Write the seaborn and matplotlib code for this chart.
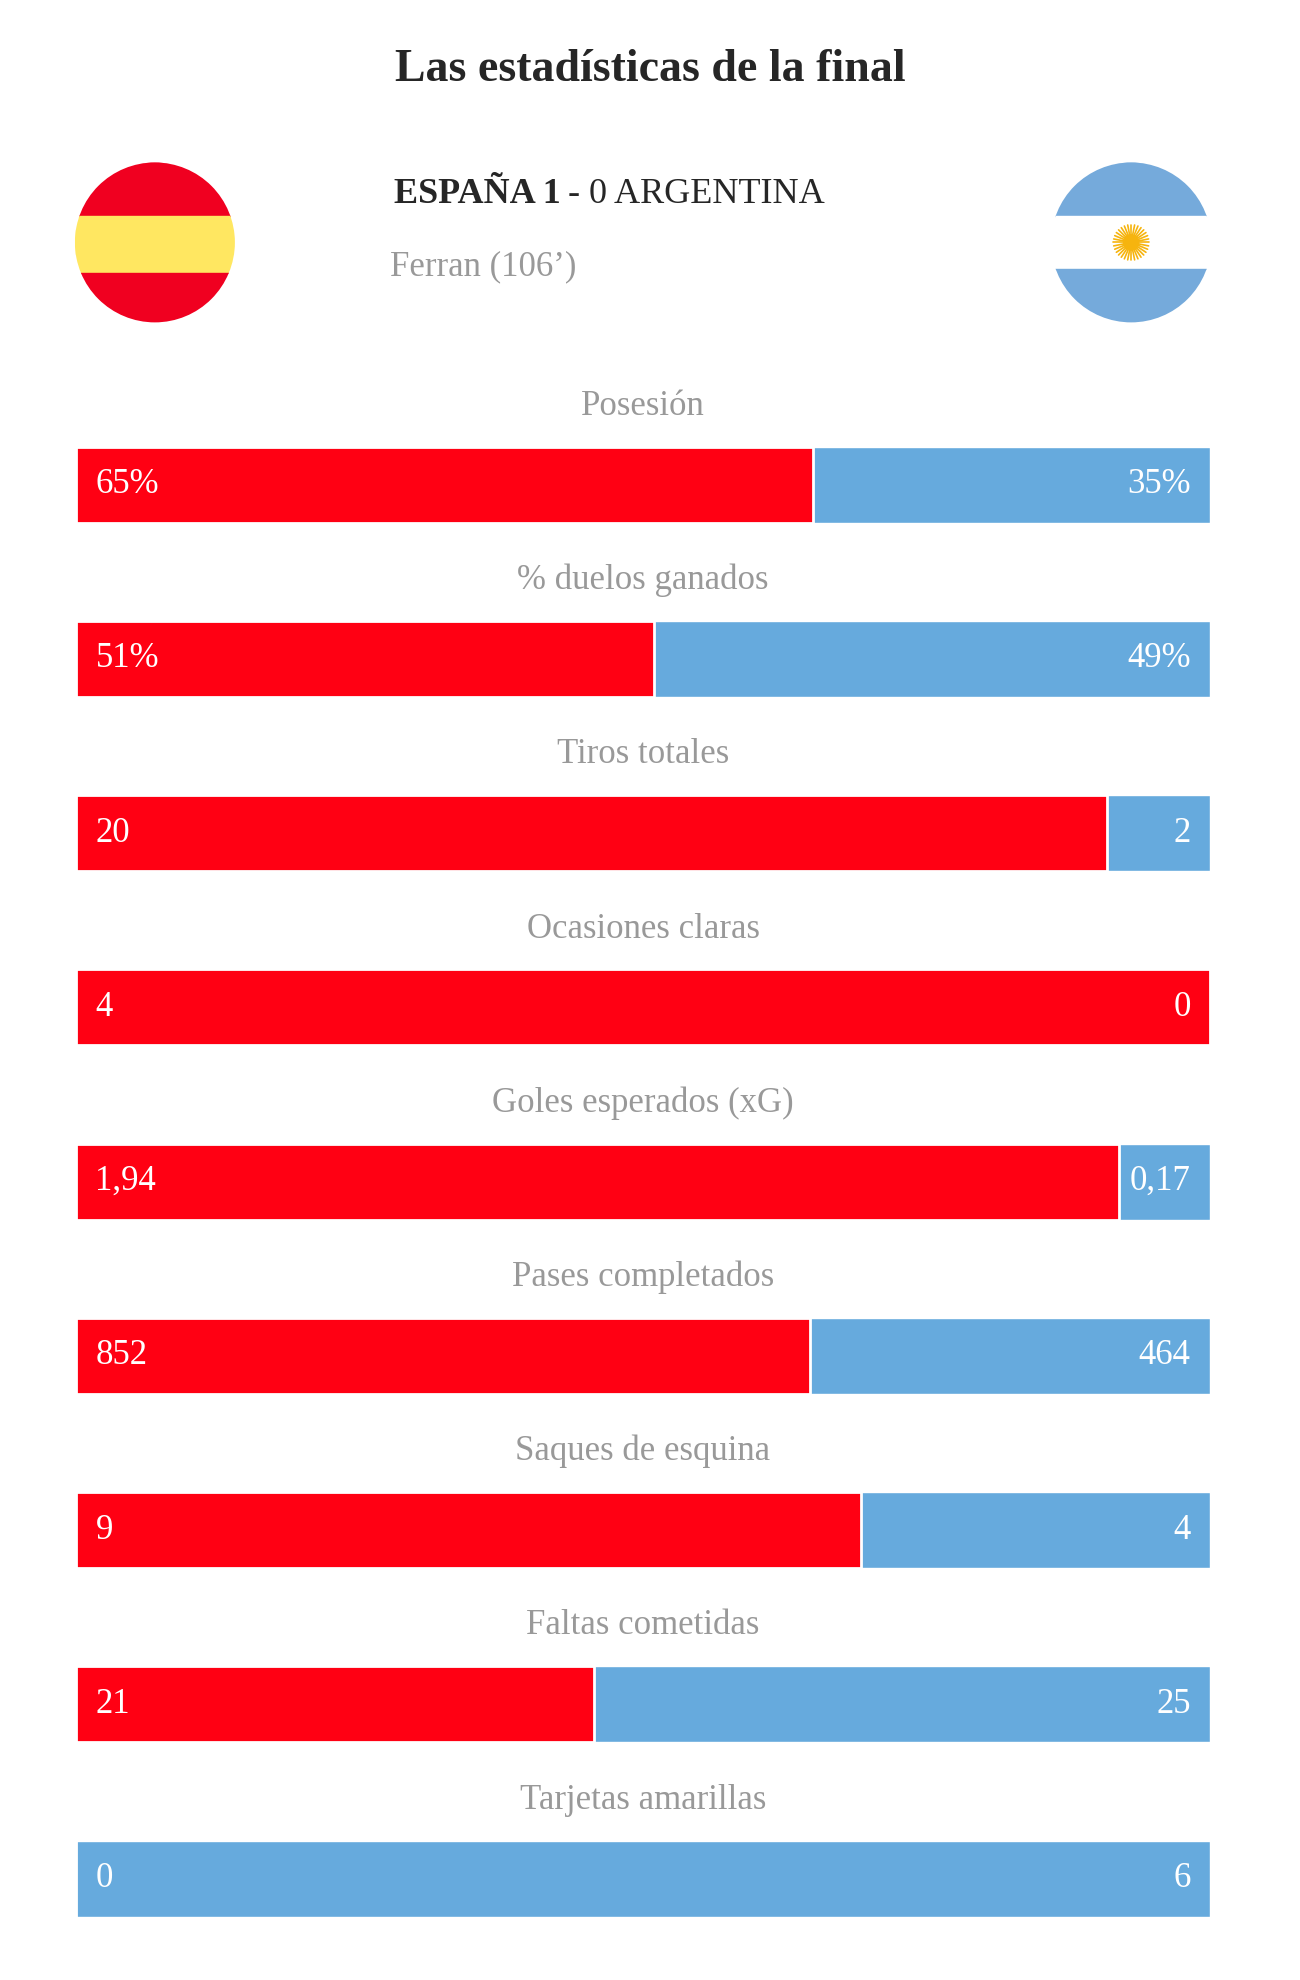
import numpy as np
import pandas as pd
import matplotlib
matplotlib.use('Agg')
import matplotlib.pyplot as plt
import seaborn as sns
from matplotlib.patches import Circle, Rectangle

sns.set_style('white')
plt.rcParams['font.family'] = ['Liberation Serif', 'DejaVu Serif']

categories = ['Posesión', '% duelos ganados', 'Tiros totales', 'Ocasiones claras',
              'Goles esperados (xG)', 'Pases completados', 'Saques de esquina',
              'Faltas cometidas', 'Tarjetas amarillas']
spain = [65, 51, 20, 4, 1.94, 852, 9, 21, 0]
argentina = [35, 49, 2, 0, 0.17, 464, 4, 25, 6]
spain_lbl = ['65%', '51%', '20', '4', '1,94', '852', '9', '21', '0']
arg_lbl = ['35%', '49%', '2', '0', '0,17', '464', '4', '25', '6']

RED = '#FF0013'
BLUE = '#66AADD'
GRAY = '#999999'

df = pd.DataFrame({'cat': categories, 'total': 1.0,
                   'share': [s / (s + a) for s, a in zip(spain, argentina)]})

fig = plt.figure(figsize=(13, 19.8), dpi=100)

# bars
ax = fig.add_axes([60 / 1024, 1 - 1510 / 1560, 893 / 1024, (1510 - 352) / 1560])
sns.barplot(data=df, y='cat', x='total', color=BLUE, orient='h', width=0.436,
            saturation=1, ax=ax)
sns.barplot(data=df, y='cat', x='share', color=RED, orient='h', width=0.436,
            saturation=1, ax=ax, edgecolor='white', linewidth=2)
ax.set_xlim(0, 1)
ax.set_ylim(8.218, -0.218)
ax.axis('off')
for i, c in enumerate(categories):
    ax.text(0.5, i - 0.45, c, ha='center', va='center', fontsize=25, color=GRAY, clip_on=False)
    ax.text(0.017, i, spain_lbl[i], ha='left', va='center', fontsize=25, color='white')
    ax.text(0.983, i, arg_lbl[i], ha='right', va='center', fontsize=25, color='white')

# header overlay in reference pixel coords
ov = fig.add_axes([0, 0, 1, 1])
ov.set_xlim(0, 1024)
ov.set_ylim(1560, 0)
ov.axis('off')
ov.text(512, 55, 'Las estadísticas de la final', ha='center', va='center',
        fontsize=33, fontweight='bold')
t1 = ov.text(310, 153, 'ESPAÑA 1', ha='left', va='center', fontsize=26, fontweight='bold')
fig.canvas.draw()
bb = t1.get_window_extent().transformed(ov.transData.inverted())
ov.text(bb.x1 + 6, 153, '- 0 ARGENTINA', ha='left', va='center', fontsize=26)
ov.text(307, 210, 'Ferran (106’)', ha='left', va='center', fontsize=25, color=GRAY)

# Spain flag
c = Circle((122, 191), 63, transform=ov.transData)
for y0, h, col in [(128, 42, '#F00020'), (170, 45, '#FFE761'), (215, 40, '#F00020')]:
    r = Rectangle((59, y0), 126, h, color=col)
    ov.add_patch(r)
    r.set_clip_path(c)
# Argentina flag
c2 = Circle((891, 191), 63, transform=ov.transData)
for y0, h, col in [(128, 42, '#75AADB'), (170, 42, 'white'), (212, 43, '#75AADB')]:
    r = Rectangle((828, y0), 126, h, color=col)
    ov.add_patch(r)
    r.set_clip_path(c2)
for ang in np.linspace(0, 2 * np.pi, 32, endpoint=False):
    ov.plot([891 + 6 * np.cos(ang), 891 + 14 * np.cos(ang)],
            [191 + 6 * np.sin(ang), 191 + 14 * np.sin(ang)], color='#F6B40E', lw=1.2)
ov.add_patch(Circle((891, 191), 6, color='#F6B40E'))

fig.savefig('out.png', dpi=100, facecolor='white')
